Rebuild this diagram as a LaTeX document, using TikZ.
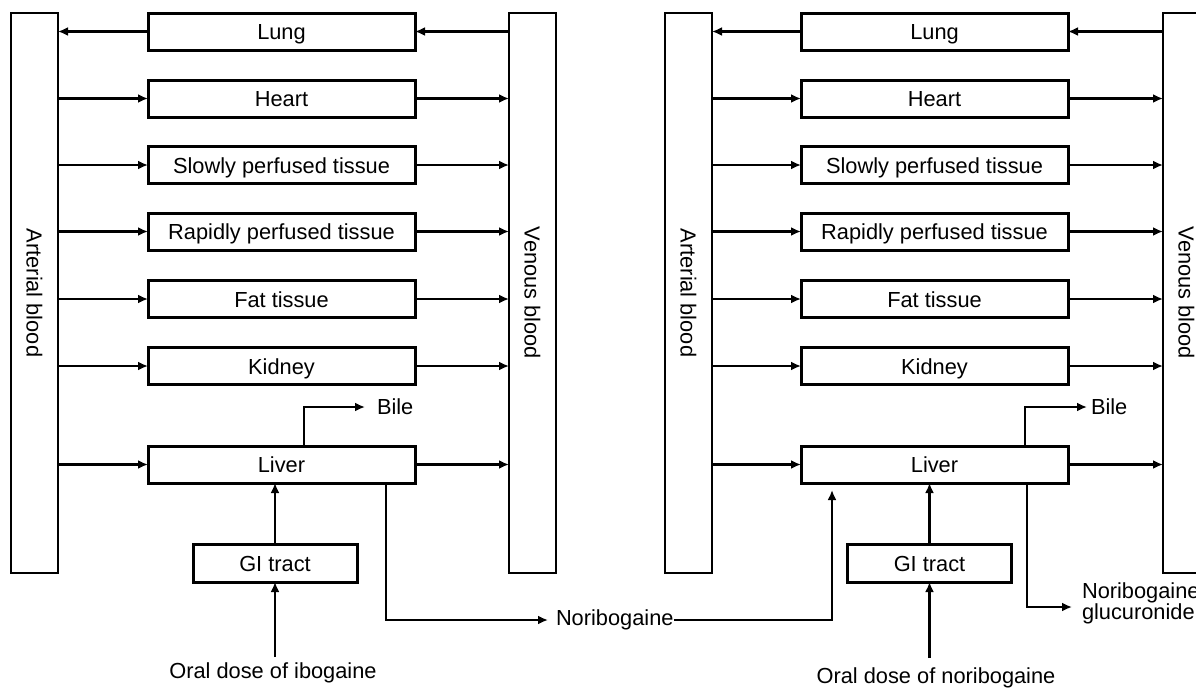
\documentclass[tikz,border=0pt]{standalone}
\usepackage{fontspec}
\setmainfont{Liberation Sans}
\usetikzlibrary{arrows.meta}
\begin{document}
\begin{tikzpicture}[x=1pt,y=-1pt,
  every node/.style={font=\fontsize{21.8}{21}\selectfont, inner sep=0pt, outer sep=0pt},
  organ/.style={draw, line width=3pt, minimum width=267pt, minimum height=37pt, text height=16.5pt, text depth=0pt},
  gibox/.style={draw, line width=3pt, minimum width=164pt, minimum height=38pt, text height=16.5pt, text depth=0pt},
  blood/.style={draw, line width=1.6pt, minimum width=47pt, minimum height=560pt},
  arr/.style={line width=2.7pt, -{Latex[length=10pt,width=9pt]}}]
\useasboundingbox (0,0) rectangle (1196,689);

% ---------- left model ----------
\node[blood] (A1) at (34.5,293) {};
\node[rotate=-90] at (A1.center) {Arterial blood};
\node[blood] (V1) at (532.5,293) {};
\node[rotate=-90] at (V1.center) {Venous blood};

\node[organ] (L1) at (281.5,31.5) {Lung};
\node[organ] (H1) at (281.5,98.5) {Heart};
\node[organ] (S1) at (281.5,165) {Slowly perfused tissue};
\node[organ] (R1) at (281.5,231.5) {Rapidly perfused tissue};
\node[organ] (F1) at (281.5,299) {Fat tissue};
\node[organ] (K1) at (281.5,366) {Kidney};
\node[organ] (Li1) at (281.5,464.5) {Liver};
\node[gibox] (GI1) at (275,563) {GI tract};
\node[anchor=west] (B1) at (377,407) {Bile};
\node (O1) at (273,673) {Oral dose of ibogaine};
\coordinate (o1) at (275,657);
\node[anchor=west] (N) at (556,620) {Noribogaine};

\draw[arr] (V1.west |- L1.east) -- (L1.east);
\draw[arr] (L1.west) -- (A1.east |- L1.west);
\foreach \n in {H1,S1,R1,F1,K1,Li1}{
  \draw[arr] (A1.east |- \n.west) -- (\n.west);
  \draw[arr] (\n.east) -- (V1.west |- \n.east);
}
\draw[arr] ([xshift=22.5pt]Li1.north) |- ([xshift=-12pt]B1.west);
\draw[arr] (GI1.north) -- (GI1.north |- Li1.south);
\draw[arr] (o1) -- (GI1.south);
\draw[arr] ([xshift=104.5pt]Li1.south) |- ([xshift=-8pt]N.west);

% ---------- right model ----------
\node[blood] (A2) at (688.5,293) {};
\node[rotate=-90] at (A2.center) {Arterial blood};
\node[blood] (V2) at (1186.5,293) {};
\node[rotate=-90] at (V2.center) {Venous blood};

\node[organ] (L2) at (934.5,31.5) {Lung};
\node[organ] (H2) at (934.5,98.5) {Heart};
\node[organ] (S2) at (934.5,165) {Slowly perfused tissue};
\node[organ] (R2) at (934.5,231.5) {Rapidly perfused tissue};
\node[organ] (F2) at (934.5,299) {Fat tissue};
\node[organ] (K2) at (934.5,366) {Kidney};
\node[organ] (Li2) at (934.5,464.5) {Liver};
\node[gibox] (GI2) at (929.5,563) {GI tract};
\node[anchor=west] (B2) at (1091,407) {Bile};
\node (O2) at (936,678) {Oral dose of noribogaine};
\coordinate (o2) at (929.5,658);
\node[anchor=west, align=left] (G) at (1082,603) {Noribogaine\\glucuronide};

\draw[arr] (V2.west |- L2.east) -- (L2.east);
\draw[arr] (L2.west) -- (A2.east |- L2.west);
\foreach \n in {H2,S2,R2,F2,K2,Li2}{
  \draw[arr] (A2.east |- \n.west) -- (\n.west);
  \draw[arr] (\n.east) -- (V2.west |- \n.east);
}
\draw[arr] ([xshift=90.5pt]Li2.north) |- ([xshift=-4pt]B2.west);
\draw[arr] (GI2.north) -- (GI2.north |- Li2.south);
\draw[arr] (o2) -- (GI2.south);
\draw[arr] ([xshift=92.5pt]Li2.south) |- ([xshift=-10pt,yshift=-4pt]G.west);
\draw[arr] (N.east) -| ([xshift=-102.5pt,yshift=-7pt]Li2.south);
\end{tikzpicture}
\end{document}
